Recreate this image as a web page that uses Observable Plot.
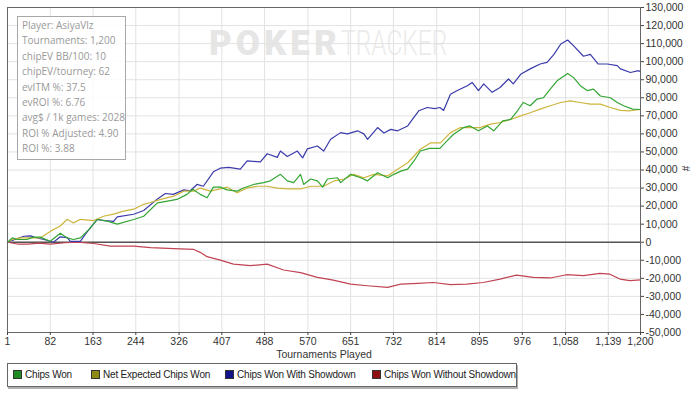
<!DOCTYPE html>
<html>
<head>
<meta charset="utf-8">
<script src="https://cdn.jsdelivr.net/npm/d3@7"></script>
<script src="https://cdn.jsdelivr.net/npm/@observablehq/plot@0.6"></script>
<style>
  html, body { margin: 0; padding: 0; background: #fff; }
  #wrap { position: relative; width: 700px; height: 395px; overflow: hidden; font-family: "Liberation Sans", Arial, sans-serif; }
  #wm { position: absolute; left: 209px; top: 23px; font-family: Roboto, "Liberation Sans", sans-serif; font-size: 35px; white-space: nowrap; z-index: 0; }
  #wm b { font-weight: 900; color: #e6e6e6; letter-spacing: 4px; display: inline-block; }
  #wm span { font-weight: 300; color: #ebebeb; display: inline-block; transform: scaleX(0.7); transform-origin: left center; }
  #chart { position: absolute; left: 0; top: 0; z-index: 1; }
  #info { position: absolute; left: 17px; top: 16px; width: 109px; height: 144px; border: 1px solid #a8a8a8; background: rgba(255,255,255,0.85); z-index: 2;
          font-family: "Open Sans", "Noto Sans", sans-serif; font-size: 10px; color: #999; box-sizing: border-box; padding: 1px 0 0 4px; line-height: 15.4px; }
  #ylab { position: absolute; left: 683px; top: 163px; font-size: 10px; color: #333; transform: rotate(90deg); z-index: 2; }
  #legend { position: absolute; left: 7px; top: 363px; width: 510px; height: 24px; border: 1px solid #666; box-shadow: 1px 2px 0 #b0b0b0; box-sizing: border-box;
            font-size: 10px; letter-spacing: -0.2px; color: #222; z-index: 2; }
  .item { position: absolute; top: 5px; white-space: nowrap; }
  .sw { display: inline-block; width: 7px; height: 7px; border: 1px solid #333; margin-right: 3px; vertical-align: -1px; }
</style>
</head>
<body>
<div id="wrap">
  <div id="wm"><b>POKER</b><span>TRACKER</span></div>
  <div id="chart"></div>
  <div id="info"></div>
  <div id="ylab">#</div>
  <div id="legend"></div>
</div>
<script>
// ---- data (tournament #, chips) ----
const xTicks = [1, 82, 163, 244, 326, 407, 488, 570, 651, 732, 814, 895, 976, 1058, 1139, 1200];
const yTicks = [-50000, -40000, -30000, -20000, -10000, 0, 10000, 20000, 30000, 40000, 50000, 60000, 70000, 80000, 90000, 100000, 110000, 120000, 130000];

const seriesNames = ["Chips Won", "Net Expected Chips Won", "Chips Won With Showdown", "Chips Won Without Showdown"];
const lineColors = ["#33a533", "#cdb53c", "#3b3bab", "#c04452"];
const swatchColors = ["#1e8c1e", "#8f8a12", "#12128a", "#8e1010"];

const infoLines = ["Player: AsiyaVlz", "Tournaments: 1,200", "chipEV BB/100: 10", "chipEV/tourney: 62", "evITM %: 37.5", "evROI %: 6.76", "avg$ / 1k games: 2028", "ROI % Adjusted: 4.90", "ROI %: 3.88"];

const chipsWon = [[1,0],[10,2400],[20,1500],[38,1500],[50,2800],[63,2800],[82,500],[101,5000],[114,2400],[126,1500],[139,2400],[155,7000],[171,12600],[190,11700],[209,10000],[240,12600],[259,14400],[285,21800],[304,22800],[322,23700],[341,26500],[352,29300],[366,26500],[379,24600],[391,30500],[404,30500],[417,29000],[436,28300],[448,30000],[467,32000],[486,33000],[499,34000],[518,37600],[531,34000],[543,33000],[556,37600],[562,32000],[575,35000],[588,34000],[598,30500],[607,35000],[626,35700],[632,33000],[651,37600],[670,35700],[683,34000],[702,38500],[721,35700],[733,37600],[746,39400],[759,40500],[771,45000],[783,50500],[800,52000],[820,52000],[833,56000],[846,59800],[865,63500],[877,64400],[893,61700],[910,64400],[922,61700],[939,67200],[954,68000],[967,72800],[978,77400],[991,75600],[1004,79300],[1016,80000],[1029,84800],[1042,89400],[1062,93500],[1073,91300],[1086,86700],[1099,84000],[1111,84800],[1124,81000],[1143,80000],[1156,77400],[1168,75600],[1185,73700],[1200,73500]];

const netExpected = [[1,0],[10,1500],[17,2000],[27,2400],[40,2400],[63,2400],[82,6000],[101,9000],[114,12700],[126,10700],[139,12700],[164,12000],[183,14400],[202,15600],[221,17200],[240,18300],[259,21000],[272,22000],[291,23700],[316,25500],[335,28300],[354,28300],[366,30000],[385,28300],[404,29500],[417,30500],[436,27400],[455,30000],[474,31000],[493,31000],[512,30000],[531,29500],[556,29500],[575,31000],[600,31000],[620,34000],[639,35000],[657,37600],[676,35700],[695,37600],[721,36700],[740,40400],[759,44000],[783,51500],[802,55000],[821,55000],[840,60700],[859,63500],[877,63500],[896,63500],[916,65400],[934,66300],[954,68000],[973,70000],[991,71700],[1010,73700],[1029,75600],[1049,77400],[1067,78300],[1086,77400],[1105,76500],[1124,76500],[1143,74600],[1162,73000],[1181,72800],[1200,73500]];

const wonWithShowdown = [[1,0],[15,1500],[32,3300],[45,3500],[55,2500],[70,1500],[88,0],[101,3000],[114,2500],[120,500],[139,500],[150,5000],[171,12600],[185,12000],[202,11500],[209,14000],[240,15500],[259,17600],[285,24000],[300,27000],[315,26500],[335,29000],[347,28500],[360,32000],[372,31000],[391,39000],[404,41000],[420,41500],[442,40500],[455,45000],[480,44500],[493,49000],[512,47000],[518,50500],[531,47500],[550,50500],[560,46700],[569,51700],[588,53300],[600,50500],[613,57000],[632,60700],[645,60000],[664,61700],[676,60000],[683,57000],[702,63500],[714,60500],[727,62500],[740,61700],[759,64400],[768,68000],[780,72800],[796,74600],[810,74000],[820,74600],[827,73000],[840,82000],[853,84000],[872,86700],[881,88500],[893,84000],[903,87700],[919,83000],[934,85700],[950,90400],[959,87700],[973,93000],[991,96000],[1010,98700],[1023,99600],[1036,104000],[1049,109800],[1062,112000],[1073,108900],[1092,103000],[1105,104000],[1120,98700],[1137,98700],[1156,97800],[1162,96000],[1181,94000],[1196,95000],[1200,94500]];

const wonWithoutShowdown = [[1,0],[20,-1000],[40,-1000],[60,-500],[82,-1000],[110,-300],[133,0],[164,-700],[196,-2200],[240,-2200],[272,-3000],[316,-3500],[354,-4000],[366,-5600],[379,-8000],[404,-9900],[429,-12100],[461,-13000],[493,-12100],[524,-15400],[556,-16800],[588,-19500],[618,-21000],[651,-23200],[683,-24100],[721,-25000],[746,-23200],[778,-22800],[808,-22300],[840,-23500],[871,-23200],[902,-22300],[934,-20400],[965,-18200],[997,-19500],[1029,-19800],[1060,-18000],[1092,-18500],[1123,-17300],[1142,-17700],[1161,-20400],[1180,-21300],[1200,-20800]];

// ---- chart ----
const fmt = d => d.toLocaleString("en-US");
const lineOpts = (i) => ({x: d => d[0], y: d => d[1], stroke: lineColors[i], strokeWidth: 1.2, curve: "linear"});

const chart = Plot.plot({
  width: 700,
  height: 360,
  marginLeft: 7,
  marginRight: 60,
  marginTop: 7,
  marginBottom: 28,
  style: {fontFamily: "'Liberation Sans', Arial, sans-serif", fontSize: "10px", color: "#333", background: "transparent"},
  x: {domain: [1, 1200]},
  y: {domain: [-50000, 130000]},
  marks: [
    Plot.gridX(xTicks, {stroke: "#e2e2e2", strokeOpacity: 1}),
    Plot.gridY(yTicks, {stroke: "#e2e2e2", strokeOpacity: 1}),
    Plot.ruleY([0], {stroke: "#555", strokeWidth: 1.5}),
    Plot.line(wonWithoutShowdown, lineOpts(3)),
    Plot.line(wonWithShowdown, lineOpts(2)),
    Plot.line(netExpected, lineOpts(1)),
    Plot.line(chipsWon, lineOpts(0)),
    Plot.frame({stroke: "#666"}),
    Plot.axisY(yTicks, {anchor: "right", tickSize: 3, tickPadding: 2, tickFormat: fmt, label: null, stroke: "#444", fontSize: 10.5}),
    Plot.axisX(xTicks, {anchor: "bottom", tickSize: 3, tickPadding: 2, tickFormat: fmt, label: "Tournaments Played", labelAnchor: "center", labelArrow: "none", labelOffset: 25, stroke: "#444", fontSize: 10.5})
  ]
});
document.getElementById("chart").appendChild(chart);

// ---- info box ----
const info = document.getElementById("info");
infoLines.forEach(t => { const d = document.createElement("div"); d.textContent = t; info.appendChild(d); });

// ---- legend ----
const legendX = [5, 83, 217, 364];
const legend = document.getElementById("legend");
seriesNames.forEach((name, i) => {
  const it = document.createElement("div");
  it.className = "item";
  it.style.left = legendX[i] + "px";
  const sw = document.createElement("span");
  sw.className = "sw";
  sw.style.background = swatchColors[i];
  it.appendChild(sw);
  it.appendChild(document.createTextNode(name));
  legend.appendChild(it);
});
</script>
</body>
</html>
